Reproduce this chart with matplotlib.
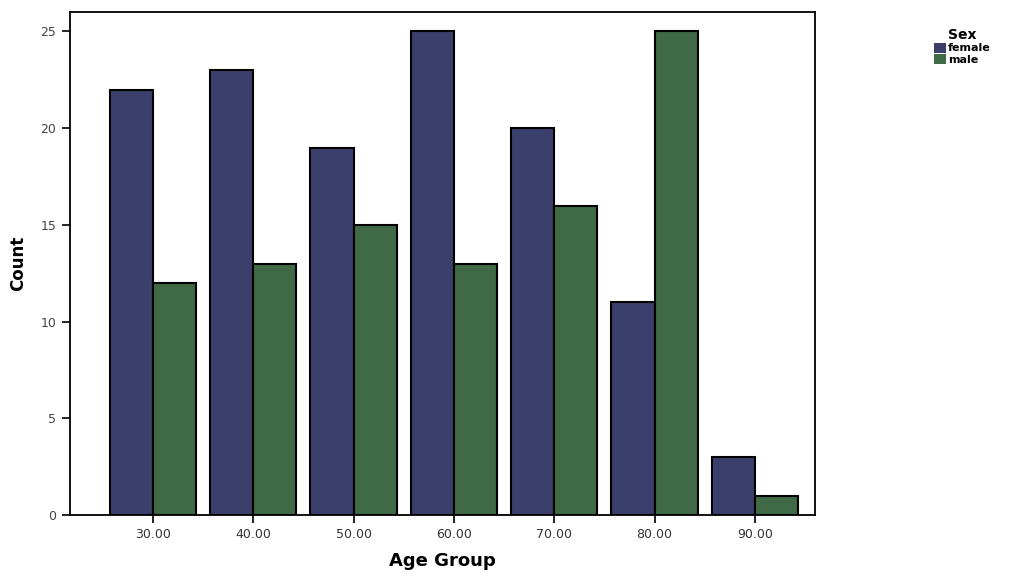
import numpy as np
import matplotlib
matplotlib.use("Agg")
import matplotlib.pyplot as plt

age_groups = ["30.00", "40.00", "50.00", "60.00", "70.00", "80.00", "90.00"]
female = [22, 23, 19, 25, 20, 11, 3]
male = [12, 13, 15, 13, 16, 25, 1]

col_female = "#3b3f6b"
col_male = "#3f6a45"

fig = plt.figure(figsize=(10.24, 5.78), dpi=100)
ax = fig.add_axes([0.068, 0.109, 0.728, 0.87])

x = np.arange(len(age_groups))
w = 0.43
ax.bar(x - w / 2, female, width=w, color=col_female, edgecolor="black", linewidth=1.5, label="female")
ax.bar(x + w / 2, male, width=w, color=col_male, edgecolor="black", linewidth=1.5, label="male")

ax.set_xlim(-0.83, 6.6)
ax.set_ylim(0, 26)
ax.set_xticks(x)
ax.set_xticklabels(age_groups, fontsize=9, color="#333333")
ax.set_yticks([0, 5, 10, 15, 20, 25])
ax.tick_params(axis="y", labelsize=9, labelcolor="#444444", length=6, width=1.2)
ax.tick_params(axis="x", length=6, width=1.2)
for s in ax.spines.values():
    s.set_linewidth(1.3)

ax.set_xlabel("Age Group", fontsize=13, fontweight="bold", labelpad=8)
ax.set_ylabel("Count", fontsize=12, fontweight="bold", labelpad=10)

leg = fig.legend(loc="upper left", bbox_to_anchor=(0.905, 0.965), title="Sex",
                 frameon=False, prop={"size": 8, "weight": "bold"},
                 title_fontproperties={"size": 10, "weight": "bold"},
                 handlelength=1.0, handleheight=1.0, handletextpad=0.2,
                 labelspacing=0.05, borderpad=0.2)
for h in leg.legend_handles:
    h.set_edgecolor("none")

fig.savefig("out.png", dpi=100)
